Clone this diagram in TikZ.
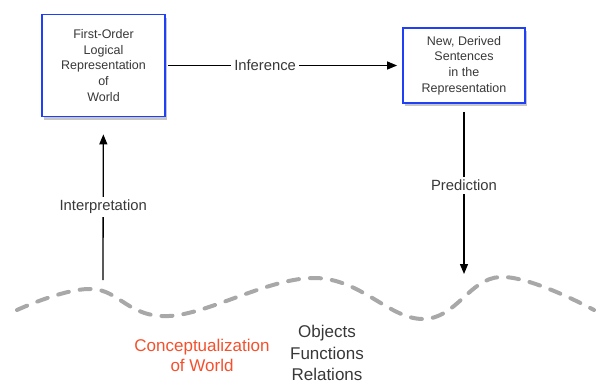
\documentclass[tikz,border=0pt]{standalone}
\usepackage{fontspec}
\setmainfont{Liberation Sans}
\usepackage{xcolor}
\usetikzlibrary{arrows.meta,shadows}

\definecolor{boxblue}{HTML}{2040F8}
\definecolor{wavegray}{HTML}{A8A8A8}
\definecolor{worldred}{HTML}{F4502C}
\definecolor{txtgray}{HTML}{383838}

\begin{document}
\begin{tikzpicture}[x=1pt,y=-1pt,
  repbox/.style={draw=boxblue,line width=1.8pt,fill=white,align=center,
    text=txtgray,font=\fontsize{12.5}{15.8}\selectfont,inner sep=2pt,
    drop shadow={opacity=0.45,shadow xshift=2pt,shadow yshift=-3pt}},
  flow/.style={-{Triangle[length=10pt,width=8pt]},line width=1.3pt},
  lbl/.style={fill=white,text=txtgray,font=\fontsize{14.8}{16}\selectfont,inner sep=3pt}]

\useasboundingbox (0,0) rectangle (603,381);

% Representation boxes
\node[repbox,minimum width=123pt,minimum height=102pt] (logic) at (103.5,65.5)
  {First-Order\\Logical\\Representation\\of\\World};
\node[repbox,minimum width=122pt,minimum height=75pt] (derived) at (464,65.5)
  {New, Derived\\Sentences\\in the\\Representation};

% The world, seen as a wavy surface
\draw[wavegray,line width=4pt,line cap=round,dash pattern=on 11pt off 11pt]
  plot[smooth,tension=0.65] coordinates
  {(17,310) (92,289) (169,316) (315,278) (423,319) (500,277) (594,310)};
\coordinate (wleft) at (103,280);
\coordinate (wright) at (464,274);

% Inference
\draw[flow,shorten <=2pt,shorten >=5pt] (logic) -- (derived)
  node[lbl,pos=0.42] {Inference};

% Interpretation
\draw[flow,shorten >=17pt] (wleft) -- (logic)
  node[lbl,pos=0.45] {Interpretation};

% Prediction
\draw[flow,shorten <=8pt] (derived) -- (wright)
  node[lbl,pos=0.48] {Prediction};

% Labels under the surface
\node[text=worldred,align=center,font=\fontsize{17}{20}\selectfont] (concept) at (202,355)
  {Conceptualization\\of World};
\node[text=txtgray,align=center,font=\fontsize{17}{21.5}\selectfont,anchor=north] (things) at (327,322)
  {Objects\\Functions\\Relations};

\end{tikzpicture}
\end{document}
